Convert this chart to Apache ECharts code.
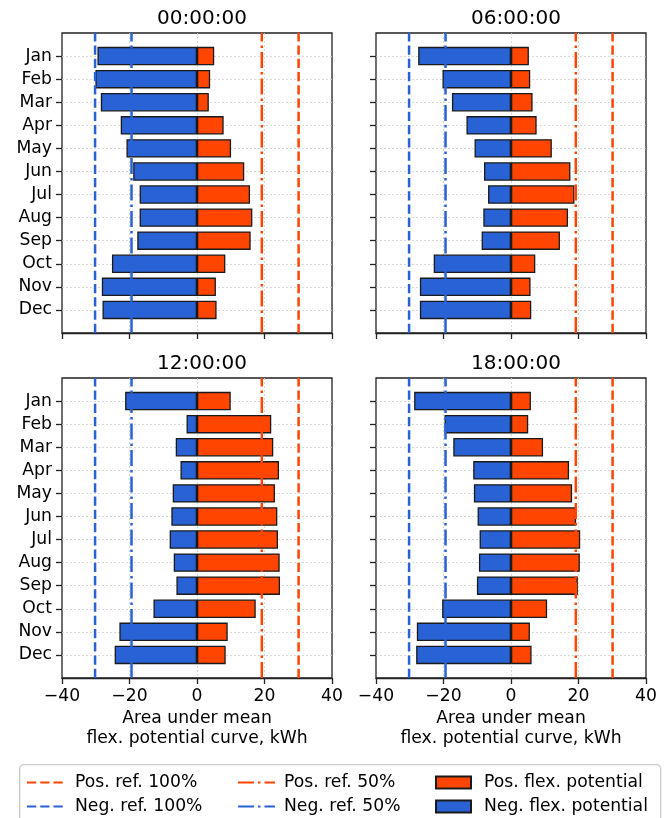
<!DOCTYPE html>
<html>
<head>
<meta charset="utf-8">
<script src="https://cdn.jsdelivr.net/npm/echarts@6/dist/echarts.min.js"></script>
<style>
  html, body { margin: 0; padding: 0; background: #fff; }
  #chart { width: 672px; height: 818px; }
</style>
</head>
<body>
<div id="chart"></div>
<script>
// ============================================
// data
// ============================================
const months = ['Jan', 'Feb', 'Mar', 'Apr', 'May', 'Jun', 'Jul', 'Aug', 'Sep', 'Oct', 'Nov', 'Dec']
const titles = ['00:00:00', '06:00:00', '12:00:00', '18:00:00']
const xTicks = [-40, -20, 0, 20, 40]

const neg00 = [-29.5, -30.1, -28.5, -22.6, -20.9, -18.9, -17.0, -17.0, -17.7, -25.2, -28.2, -28.0]
const pos00 = [5.1, 3.9, 3.5, 7.9, 10.1, 14.0, 15.7, 16.4, 15.9, 8.4, 5.6, 5.8]
const neg06 = [-27.5, -20.3, -17.5, -13.2, -10.8, -8.0, -6.8, -8.2, -8.7, -22.9, -27.0, -27.0]
const pos06 = [5.3, 5.7, 6.4, 7.6, 12.1, 17.6, 18.8, 16.9, 14.5, 7.2, 5.8, 6.0]
const neg12 = [-21.3, -3.1, -6.3, -4.9, -7.2, -7.6, -8.1, -6.9, -6.1, -12.9, -23.0, -24.4]
const pos12 = [10.0, 22.0, 22.6, 24.3, 23.1, 23.8, 24.0, 24.5, 24.6, 17.4, 9.1, 8.5]
const neg18 = [-28.7, -19.7, -17.1, -11.2, -11.0, -9.9, -9.3, -9.5, -10.1, -20.4, -27.9, -28.1]
const pos18 = [5.9, 5.1, 9.5, 17.2, 18.1, 19.3, 20.5, 20.4, 19.8, 10.7, 5.6, 6.1]

const negData = [neg00, neg06, neg12, neg18]
const posData = [pos00, pos06, pos12, pos18]

// reference lines (kWh)
const posRef100 = 30.1
const posRef50 = 19.2
const negRef100 = -30.2
const negRef50 = -19.4

// ============================================
// style
// ============================================
const colorPos = '#ff4500'
const colorNeg = '#2962d5'
const edge = '#1a1a1a'
const spine = '#222'
const fontSize = 17.2

// panel frames
const panels = [
  { left: 62, top: 33, showY: true, showX: false },
  { left: 376, top: 33, showY: false, showX: false },
  { left: 62, top: 378, showY: true, showX: true },
  { left: 376, top: 378, showY: false, showX: true }
]
const panelW = 270
const panelH = 300
// y range -1..12 (13 units), bars sit in the inner 12
const unitH = panelH / 13

const grid = []
const xAxis = []
const yAxis = []
const series = []
const title = []

const fmtMinus = v => (v < 0 ? '\u2212' + Math.abs(v) : String(v))
const gridLine = { color: '#cfcfcf', width: 0.8, type: [2, 2] }

// frame grids 0..3
panels.forEach((p, i) => {
  grid.push({
    left: p.left, top: p.top, width: panelW, height: panelH,
    show: true, borderColor: spine, borderWidth: 1.3, backgroundColor: 'transparent'
  })
  xAxis.push({
    gridIndex: i, type: 'value', min: xTicks[0], max: xTicks[xTicks.length - 1], interval: 20,
    axisLine: { show: true, onZero: false, lineStyle: { color: spine, width: 1.3 } },
    axisTick: { show: true, length: 6, lineStyle: { color: spine, width: 1.3 } },
    axisLabel: { show: p.showX, color: '#000', fontSize: fontSize, margin: 10, formatter: fmtMinus },
    splitLine: { show: true, showMinLine: false, showMaxLine: false, lineStyle: gridLine },
    name: p.showX ? 'Area under mean\nflex. potential curve, kWh' : '',
    nameLocation: 'middle',
    nameGap: 31,
    nameTextStyle: { color: '#000', fontSize: fontSize, lineHeight: 19.5 }
  })
  yAxis.push({
    gridIndex: i, type: 'value', min: -1, max: 12, interval: 1, inverse: true,
    axisLine: { show: false, onZero: false }, axisTick: { show: false }, axisLabel: { show: false },
    splitLine: { show: true, showMinLine: false, showMaxLine: false, lineStyle: gridLine }
  })
  title.push({
    text: titles[i], left: p.left + panelW / 2, textAlign: 'center', top: p.top - 29,
    textStyle: { fontSize: 20, fontWeight: 'normal', color: '#000' }
  })
})

// bar grids 4..7
panels.forEach((p, i) => {
  const gi = 4 + i
  grid.push({ left: p.left, top: p.top + unitH / 2, width: panelW, height: unitH * 12 })
  xAxis.push({ gridIndex: gi, type: 'value', min: -40, max: 40, show: false })
  yAxis.push({
    gridIndex: gi, type: 'category', data: months, inverse: true,
    axisLine: { show: false, onZero: false },
    axisTick: { show: true, alignWithLabel: true, length: 6, lineStyle: { color: spine, width: 1.3 } },
    axisLabel: { show: p.showY, color: '#000', fontSize: fontSize, margin: 10 },
    splitLine: { show: false }
  })

  series.push({
    name: 'Neg. flex. potential', type: 'bar', xAxisIndex: gi, yAxisIndex: gi,
    data: negData[i], barWidth: '80%', barGap: '-100%',
    itemStyle: { color: colorNeg, borderColor: edge, borderWidth: 1.3 }, z: 2
  })
  series.push({
    name: 'Pos. flex. potential', type: 'bar', xAxisIndex: gi, yAxisIndex: gi,
    data: posData[i], barWidth: '80%', barGap: '-100%',
    itemStyle: { color: colorPos, borderColor: edge, borderWidth: 1.3 }, z: 2
  })
})

// reference lines on frame grids
const refLines = [
  { name: 'Pos. ref. 100%', value: posRef100, color: colorPos, dash: [9.25, 4] },
  { name: 'Neg. ref. 100%', value: negRef100, color: colorNeg, dash: [9.25, 4] },
  { name: 'Pos. ref. 50%', value: posRef50, color: colorPos, dash: [16, 4, 2.5, 4] },
  { name: 'Neg. ref. 50%', value: negRef50, color: colorNeg, dash: [16, 4, 2.5, 4] }
]
panels.forEach((p, i) => {
  refLines.forEach(r => {
    series.push({
      name: r.name, type: 'line', xAxisIndex: i, yAxisIndex: i,
      data: [[r.value, 12], [r.value, -1]],
      symbol: 'none', silent: true, z: 5,
      itemStyle: { color: r.color },
      lineStyle: { color: r.color, width: 2.5, type: r.dash }
    })
  })
})

// ============================================
// legend
// ============================================
const legendText = pad => ({ fontSize: fontSize, lineHeight: 16, color: '#000', padding: [0, 0, 0, pad] })
const legendBase = {
  orient: 'vertical', top: 774, padding: 0, itemGap: 7, selectedMode: false, itemHeight: 14
}
const legend = [
  Object.assign({}, legendBase, {
    left: 26, itemWidth: 37, data: ['Pos. ref. 100%', 'Neg. ref. 100%'],
    itemStyle: { opacity: 0 }, textStyle: legendText(6)
  }),
  Object.assign({}, legendBase, {
    left: 237, itemWidth: 37, data: ['Pos. ref. 50%', 'Neg. ref. 50%'],
    itemStyle: { opacity: 0 }, textStyle: legendText(4)
  }),
  Object.assign({}, legendBase, {
    left: 435, itemWidth: 35, itemHeight: 12, icon: 'rect',
    data: ['Pos. flex. potential', 'Neg. flex. potential'], textStyle: legendText(8)
  })
]

const chart = echarts.init(document.getElementById('chart'))
chart.setOption({
  animation: false,
  backgroundColor: '#fff',
  textStyle: { fontFamily: 'DejaVu Sans' },
  title: title,
  grid: grid,
  xAxis: xAxis,
  yAxis: yAxis,
  legend: legend,
  series: series,
  graphic: [{
    type: 'rect', left: 19, top: 764, silent: true, z: -1,
    shape: { width: 641, height: 70, r: 4 },
    style: { fill: '#fff', stroke: '#cccccc', lineWidth: 1.3 }
  }]
})
</script>
</body>
</html>
